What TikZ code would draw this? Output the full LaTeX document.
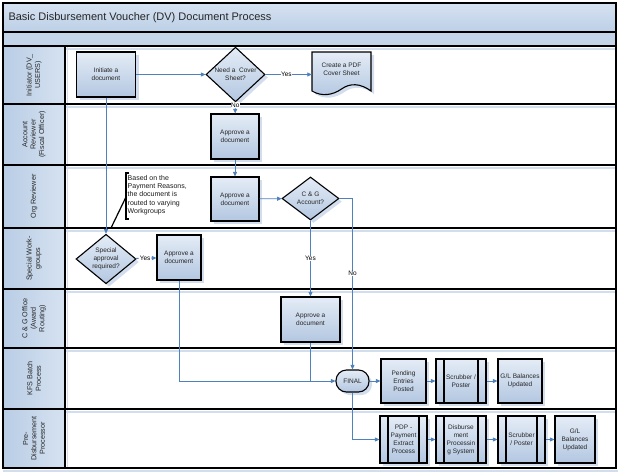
\documentclass[tikz,border=0pt]{standalone}
\usepackage{fontspec}
\setmainfont{Liberation Sans}
\usetikzlibrary{shapes.geometric,shadows,arrows.meta,calc}
\definecolor{lineblue}{HTML}{4F81BD}
\definecolor{fillA}{HTML}{E4ECF6}
\definecolor{fillB}{HTML}{B3C7E1}
\definecolor{shadowblue}{HTML}{D2DEEE}
\definecolor{bandblue}{HTML}{B9CDE5}
\definecolor{titleA}{HTML}{D6E2F1}
\definecolor{titleB}{HTML}{BCCFE6}
\begin{document}
\begin{tikzpicture}[x=1pt,y=-1pt,
  font=\fontsize{6.5}{8}\selectfont,
  shad/.style={drop shadow={shadow xshift=3pt,shadow yshift=-3pt,fill=shadowblue,opacity=1}},
  box/.style={draw=black,line width=1.1pt,top color=fillA,bottom color=fillB,shad,
    align=center,inner sep=1pt,text=black!85},
  dec/.style={box,diamond,inner sep=0pt},
  pp/.style={box,rectangle,path picture={
    \draw[line width=1.1pt] ([xshift=8pt]path picture bounding box.north west) -- ([xshift=8pt]path picture bounding box.south west);
    \draw[line width=1.1pt] ([xshift=-8pt]path picture bounding box.north east) -- ([xshift=-8pt]path picture bounding box.south east);}},
  conn/.style={draw=lineblue,line width=0.8pt,-{Triangle[length=4.5pt,width=4pt]}},
  plain/.style={draw=lineblue,line width=0.8pt},
  lbl/.style={fill=white,inner sep=0.5pt,font=\fontsize{6.5}{8}\selectfont},
  lanelab/.style={rotate=90,align=center,font=\fontsize{7.2}{8.4}\selectfont,text=black!85},
  laneline/.style={line width=1.2pt,draw=black},
  laneshadow/.style={line width=1.4pt,draw=shadowblue}
]
\useasboundingbox (0,0) rectangle (624,474);

% ---------- frame, title and lanes ----------
\fill[top color=titleA,bottom color=titleB] (3,3) rectangle (616,32);
\fill[bandblue!85] (3,32) rectangle (616,46);
\fill[left color=bandblue,right color=titleA] (3,46) rectangle (65,468);
\node[anchor=west,font=\fontsize{11}{13}\selectfont,text=black!85] (title) at (5,17.5) {Basic Disbursement Voucher (DV) Document Process};

\foreach \yy in {46,104,165,228,289,348,409}
  \draw[laneshadow] (66,\yy+3) -- (616,\yy+3);
\draw[laneshadow] (3,471) -- (618,471);
\draw[laneshadow] (67.5,46) -- (67.5,468);

\draw[laneline] (3,32) -- (616,32);
\foreach \yy in {46,104,165,228,289,348,409}
  \draw[laneline] (3,\yy) -- (616,\yy);
\draw[laneline] (65,46) -- (65,468);
\draw[line width=1.2pt] (3,3) rectangle (616,468);

\node[lanelab] (lab1) at (34,75) {Initiator (DV\_\\USERS)};
\node[lanelab] (lab2) at (34,134.5) {Account\\Reviewer\\(Fiscal Officer)};
\node[lanelab] (lab3) at (34,196.5) {Org Reviewer};
\node[lanelab] (lab4) at (34,258.5) {Special Work-\\groups};
\node[lanelab] (lab5) at (34,318.5) {C \& G Office\\(Award\\Routing)};
\node[lanelab] (lab6) at (34,378.5) {KFS Batch\\Process};
\node[lanelab] (lab7) at (34,438.5) {Pre-\\Disbursement\\Processor};

% ---------- document shape (Create a PDF Cover Sheet) ----------
\fill[shadowblue,shift={(3,3)}] (312,52) -- (371,52) -- (371,91)
  .. controls (360,83) and (350,83) .. (341.5,89)
  .. controls (333,95) and (322,97) .. (312,91) -- cycle;
\draw[line width=1.1pt,top color=fillA,bottom color=fillB] (312,52) -- (371,52) -- (371,91)
  .. controls (360,83) and (350,83) .. (341.5,89)
  .. controls (333,95) and (322,97) .. (312,91) -- cycle;
\node[align=center,inner sep=0pt,minimum width=59pt,text=black!85] (pdf) at (341.5,69) {Create a PDF\\Cover Sheet};

% ---------- nodes ----------
\node[box,minimum width=59pt,minimum height=45pt] (init) at (106,74.5) {Initiate a\\document};
\node[dec,minimum width=59pt,minimum height=45pt] (need) at (235.5,74.5) {Need a\;\;Cover\\Sheet?};
\node[box,minimum width=48pt,minimum height=45pt] (acc) at (235,136.5) {Approve a\\document};
\node[box,minimum width=48pt,minimum height=44pt] (org) at (235,199) {Approve a\\document};
\node[dec,minimum width=57pt,minimum height=43pt] (cg) at (310.5,198.5) {C \& G\\Account?};
\node[dec,minimum width=60pt,minimum height=44pt] (spec) at (106,259) {Special\\approval\\required?};
\node[box,minimum width=44pt,minimum height=45pt] (sapp) at (179,257.5) {Approve a\\document};
\node[box,minimum width=59pt,minimum height=45pt] (cgo) at (310.5,319.5) {Approve a\\document};
\node[box,rectangle,rounded corners=10.5pt,minimum width=33pt,minimum height=22pt] (final) at (352.5,381) {FINAL};
\node[box,minimum width=45pt,minimum height=44pt] (pend) at (403.5,381) {Pending\\Entries\\Posted};
\node[pp,minimum width=50pt,minimum height=44pt] (scr1) at (461,381) {Scrubber /\\Poster};
\node[box,minimum width=44pt,minimum height=44pt] (gl1) at (520,381) {G/L Balances\\Updated};
\node[pp,minimum width=47pt,minimum height=47pt] (pdp) at (403.5,439.5) {PDP -\\Payment\\Extract\\Process};
\node[pp,minimum width=50pt,minimum height=47pt] (dps) at (461,439.5) {Disburse\\ment\\Processin\\g System};
\node[pp,minimum width=47pt,minimum height=47pt] (scr2) at (521.5,439.5) {Scrubber\\/ Poster};
\node[box,minimum width=40pt,minimum height=47pt] (gl2) at (575,439.5) {G/L\\Balances\\Updated};

% ---------- annotation ----------
\node[anchor=north west,align=left,inner sep=0pt,font=\fontsize{7}{8.3}\selectfont,text=black!90] (note) at (127.5,175)
  {Based on the\\Payment Reasons,\\the document is\\routed to varying\\Workgroups};
\draw[line width=1.2pt] (129,173) -- (126,173) -- (126,219) -- (129,219);
\coordinate (noteend) at (111,228);
\draw[line width=1.2pt] (126,197) -- (noteend);

% ---------- connectors ----------
\draw[conn] (init) -- (need);
\draw[conn] (need) -- node[lbl,pos=0.45] {Yes} (pdf.west |- need.east);
\draw[conn] (need) -- node[lbl,pos=0.27] {No} (acc);
\draw[conn] (acc) -- (org);
\draw[conn] (org) -- (cg);
\draw[conn] (cg) -- node[lbl,pos=0.5] {Yes} (cgo);
\draw[conn] (cg.east) -| node[lbl,pos=0.72] {No} (final.north);
\draw[conn] (init) -- (spec);
\draw[conn] (spec) -- node[lbl,pos=0.45] {Yes} (sapp);
\draw[conn] (sapp.south) |- (final.west);
\draw[plain] (cgo.south) -- (cgo.south |- final.west);
\draw[conn] (final) -- (pend);
\draw[conn] (pend) -- (scr1);
\draw[conn] (scr1) -- (gl1);
\draw[conn] (final.south) |- (pdp.west);
\draw[conn] (pdp) -- (dps);
\draw[conn] (dps) -- (scr2);
\draw[conn] (scr2) -- (gl2);
\end{tikzpicture}
\end{document}
